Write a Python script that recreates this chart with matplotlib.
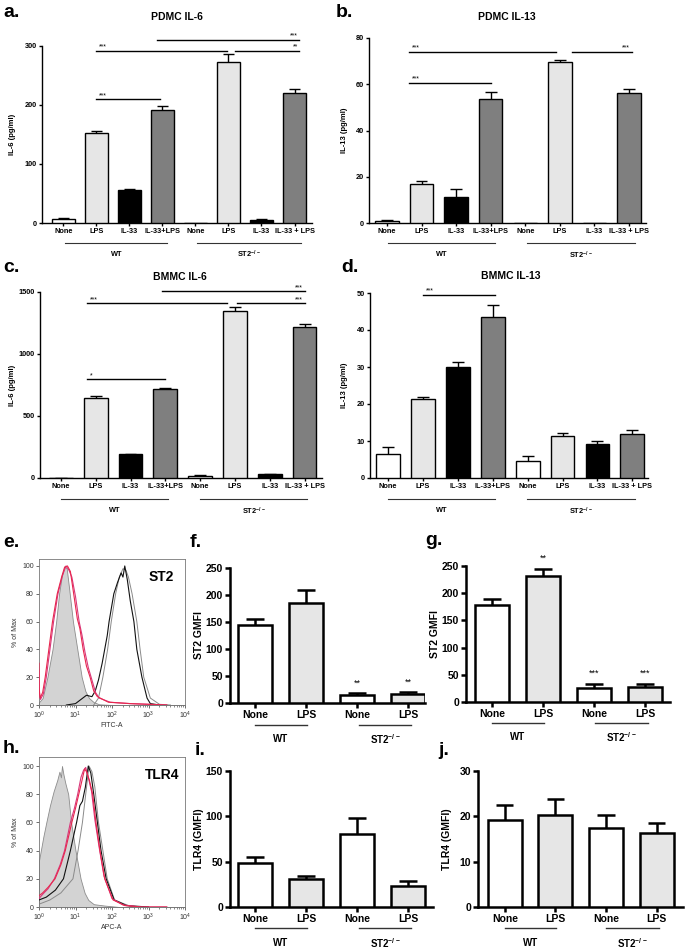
import numpy as np
import matplotlib
matplotlib.use("Agg")
import matplotlib.pyplot as plt
import matplotlib.transforms as mtransforms
from matplotlib.ticker import LogLocator, NullFormatter, FixedLocator

plt.rcParams['font.family'] = ['Liberation Sans', 'DejaVu Sans']
plt.rcParams['mathtext.fontset'] = 'custom'
plt.rcParams['mathtext.rm'] = 'Liberation Sans'
plt.rcParams['mathtext.bf'] = 'Liberation Sans:bold'
plt.rcParams['mathtext.default'] = 'regular'

# ------------------------------------------------------------------ data
conditions8 = ["None", "LPS", "IL-33", "IL-33+LPS", "None", "LPS", "IL-33", "IL-33 + LPS"]
treatment8 = ["None", "LPS", "IL-33", "IL-33+LPS"] * 2
conditions4 = ["None", "LPS", "None", "LPS"]
treatment4 = ["None", "LPS", "None", "LPS"]
genotypes = ["WT", r"ST2$^{\mathbf{-/-}}$"]

pdmc_il6 = [6.2, 153, 56, 191.5, 0.5, 273, 5, 221]
pdmc_il6_err = [1.7, 3, 1, 6.5, 0, 13, 1, 5.6]
pdmc_il13 = [0.9, 16.7, 11.4, 53.8, 0, 69.5, 0, 56.3]
pdmc_il13_err = [0.5, 1.6, 3.2, 2.8, 0, 1.1, 0, 1.5]
bmmc_il6 = [3, 642, 193, 715, 19, 1345, 30, 1214]
bmmc_il6_err = [1, 19, 4, 13, 3, 35, 3, 25]
bmmc_il13 = [6.5, 21.4, 30.1, 43.6, 4.6, 11.4, 9.2, 11.9]
bmmc_il13_err = [2.0, 0.6, 1.3, 3.2, 1.3, 0.7, 0.7, 1.0]

st2_gmfi_f = [144, 186, 15, 17]
st2_gmfi_f_err = [12, 24, 3.5, 3.5]
st2_gmfi_g = [178, 231, 26, 27]
st2_gmfi_g_err = [11, 14, 8, 7]
tlr4_gmfi_i = [49, 30.5, 80, 23]
tlr4_gmfi_i_err = [6.2, 4, 18, 5.8]
tlr4_gmfi_j = [19.1, 20.2, 17.5, 16.3]
tlr4_gmfi_j_err = [3.3, 3.7, 2.9, 2.3]

# significance brackets: (from, to, height, stars, star side)
pdmc_il6_sig = [(1.0, 4.95, 292, "***", "left"), (5.2, 7.15, 292, "**", "right"),
                (2.83, 7.15, 311, "***", "right"), (1.0, 2.92, 210, "***", "left")]
pdmc_il13_sig = [(0.64, 4.9, 74, "***", "left"), (5.35, 7.08, 74, "***", "right"),
                 (0.64, 3.0, 60.6, "***", "left")]
bmmc_il6_sig = [(0.75, 4.77, 1411, "***", "left"), (5.06, 7.0, 1411, "***", "right"),
                (2.9, 7.0, 1508, "***", "right"), (0.75, 3.0, 798, "*", "left")]
bmmc_il13_sig = [(1.0, 3.07, 49.5, "***", "left")]
st2_f_stars = ["", "", "**", "**"]
st2_g_stars = ["", "**", "***", "***"]

# flow histograms: log10(fluorescence) and % of max
e_iso_lx = [0, 0.1, 0.23, 0.37, 0.47, 0.55, 0.62, 0.7, 0.76, 0.82, 0.93, 1.05, 1.17, 1.27, 1.37, 1.5, 1.65, 2.0, 4.0]
e_iso_y = [2, 5, 20, 40, 60, 80, 92, 100, 98, 85, 60, 40, 20, 10, 5, 2, 0.5, 0, 0]
e_ko1_lx = [0, 0.005, 0.03, 0.1, 0.17, 0.27, 0.37, 0.5, 0.62, 0.7, 0.78, 0.86, 0.95, 1.05, 1.12, 1.21, 1.3, 1.4, 1.5, 1.6, 1.9, 2.5, 3.0, 3.5]
e_ko1_y = [30, 12, 5, 9, 20, 40, 60, 80, 92, 99, 100, 96, 80, 62, 55, 40, 28, 20, 10, 6, 2, 1, 0.5, 0]
e_ko2_lx = [0, 0.005, 0.04, 0.12, 0.2, 0.3, 0.4, 0.52, 0.64, 0.74, 0.82, 0.9, 1.0, 1.1, 1.18, 1.26, 1.35, 1.45, 1.55, 1.65, 1.95, 2.5, 3.0, 3.5]
e_ko2_y = [25, 10, 4, 8, 20, 40, 60, 80, 93, 100, 97, 92, 78, 60, 50, 38, 27, 18, 9, 5, 2, 1, 0.5, 0]
e_wt1_lx = [0.75, 1.0, 1.15, 1.3, 1.45, 1.54, 1.63, 1.73, 1.87, 1.92, 2.05, 2.15, 2.25, 2.3, 2.35, 2.42, 2.5, 2.6, 2.68, 2.82, 2.96, 3.05, 3.3]
e_wt1_y = [0, 1, 4, 7, 6, 10, 18, 30, 50, 60, 80, 88, 95, 92, 100, 90, 75, 60, 40, 20, 5, 1, 0]
e_wt2_lx = [1.5, 1.63, 1.75, 1.88, 1.98, 2.1, 2.2, 2.3, 2.38, 2.45, 2.55, 2.68, 2.77, 2.87, 3.05, 3.3, 3.6]
e_wt2_y = [0, 5, 20, 40, 60, 80, 92, 98, 97, 92, 80, 60, 40, 20, 5, 0.5, 0]

h_iso_lx = [0, 0.05, 0.12, 0.2, 0.3, 0.4, 0.5, 0.56, 0.6, 0.63, 0.67, 0.72, 0.8, 0.88, 1.0, 1.07, 1.14, 1.25, 1.35, 1.5, 1.8, 2.2, 4.0]
h_iso_y = [33, 40, 50, 60, 72, 82, 90, 96, 92, 100, 94, 88, 80, 60, 40, 30, 20, 10, 5, 2, 1, 0, 0]
h_ko1_lx = [0, 0.1, 0.25, 0.44, 0.6, 0.72, 0.9, 1.0, 1.09, 1.18, 1.25, 1.3, 1.38, 1.47, 1.56, 1.67, 1.8, 2.03, 2.35, 2.8, 3.5]
h_ko1_y = [8, 10, 14, 20, 30, 40, 60, 70, 80, 90, 98, 96, 90, 80, 60, 40, 20, 5, 1, 0, 0]
h_ko2_lx = [0, 0.1, 0.25, 0.42, 0.58, 0.7, 0.86, 0.97, 1.06, 1.15, 1.22, 1.28, 1.35, 1.44, 1.53, 1.65, 1.78, 2.0, 2.3, 2.8, 3.5]
h_ko2_y = [6, 9, 13, 20, 30, 40, 60, 70, 80, 92, 97, 99, 92, 82, 62, 42, 22, 6, 1.5, 0, 0]
h_wt1_lx = [0, 0.2, 0.45, 0.67, 0.86, 1.03, 1.12, 1.19, 1.27, 1.35, 1.42, 1.5, 1.6, 1.7, 1.84, 2.06, 2.4, 3.0]
h_wt1_y = [5, 7, 12, 20, 40, 60, 72, 75, 85, 100, 95, 80, 60, 40, 20, 5, 1, 0]
h_wt2_lx = [0, 0.3, 0.6, 0.93, 1.07, 1.19, 1.28, 1.37, 1.45, 1.53, 1.63, 1.75, 1.87, 2.07, 2.5, 3.0]
h_wt2_y = [2, 5, 10, 20, 40, 60, 80, 100, 96, 85, 60, 40, 20, 5, 0.5, 0]

# ------------------------------------------------------------------ style
W, H = 685, 951
fig = plt.figure(figsize=(W / 100, H / 100), dpi=100)

fill_colors = {"None": "white", "LPS": "#e6e6e6", "IL-33": "black", "IL-33+LPS": "#7f7f7f"}


def add_ax(l, r, t, b):
    return fig.add_axes([l / W, 1 - b / H, (r - l) / W, (b - t) / H])


def ftext(x, y, s, **kw):
    fig.text(x / W, 1 - y / H, s, **kw)


def bar_panel(box, vals, errs, labels, treat, ymax, yticks, xlim, width, lw,
              tick_fs, cap_hw, tick_len):
    l, r, t, b = box
    ax = add_ax(l, r, t, b)
    x = np.arange(len(vals))
    v = np.array(vals, float)
    e = np.array(errs, float)
    ax.bar(x, v, width=width, color=[fill_colors[c] for c in treat],
           edgecolor="black", linewidth=lw, zorder=3)
    m = e > 0
    ax.vlines(x[m], v[m], v[m] + e[m], color="black", lw=lw, zorder=2)
    ax.hlines(v[m] + e[m], x[m] - cap_hw, x[m] + cap_hw, color="black", lw=lw, zorder=2)
    ax.set_xlim(*xlim)
    ax.set_ylim(0, ymax)
    ax.spines[["top", "right"]].set_visible(False)
    for s in ("left", "bottom"):
        ax.spines[s].set_linewidth(lw)
    ax.set_yticks(yticks)
    ax.set_xticks(x)
    ax.set_xticklabels(labels)
    ax.tick_params(axis="both", length=tick_len, width=lw, labelsize=tick_fs, pad=1.5)
    for lab in ax.get_xticklabels() + ax.get_yticklabels():
        lab.set_fontweight("bold")
    ax.patch.set_alpha(0)
    return ax


def group_lines(ax, box, spans, line_y, text_y, fs, lw):
    l, r, t, b = box
    hpx = b - t
    trans = mtransforms.blended_transform_factory(ax.transData, ax.transAxes)
    for (x0, x1), g in zip(spans, genotypes):
        yl = (b - line_y) / hpx
        ax.plot([x0, x1], [yl, yl], transform=trans, clip_on=False, color="#333333", lw=lw)
        ax.text((x0 + x1) / 2, (b - text_y) / hpx, g, transform=trans, ha="center",
                va="center", fontsize=fs, fontweight="bold")


def sig_lines(ax, sigs, lw, fs):
    for x0, x1, y, txt, side in sigs:
        ax.plot([x0, x1], [y, y], color="black", lw=lw, clip_on=False)
        if side == "left":
            ax.text(x0 + 0.08, y, txt, ha="left", va="bottom", fontsize=fs, clip_on=False)
        else:
            ax.text(x1 - 0.05, y, txt, ha="right", va="bottom", fontsize=fs, clip_on=False)


# ---------------------------------------------------------------- a-d
small = dict(width=0.68, lw=1.0, tick_fs=5.3, cap_hw=0.17, tick_len=2.2)

box_a = (42, 312, 46, 223)
ax_a = bar_panel(box_a, pdmc_il6, pdmc_il6_err, conditions8, treatment8, 300,
                 [0, 100, 200, 300], (-0.65, 7.53), **small)
sig_lines(ax_a, pdmc_il6_sig, 1.0, 5)
group_lines(ax_a, box_a, [(0.05, 3.15), (4.05, 7.2)], 243, 254, 5.3, 0.8)

box_b = (369, 646, 38, 223)
ax_b = bar_panel(box_b, pdmc_il13, pdmc_il13_err, conditions8, treatment8, 80,
                 [0, 20, 40, 60, 80], (-0.52, 7.49), **small)
sig_lines(ax_b, pdmc_il13_sig, 1.0, 5)
group_lines(ax_b, box_b, [(0.03, 3.12), (4.05, 7.17)], 243, 255, 5.3, 0.8)

box_c = (40, 322, 292, 478)
ax_c = bar_panel(box_c, bmmc_il6, bmmc_il6_err, conditions8, treatment8, 1500,
                 [0, 500, 1000, 1500], (-0.6, 7.5), **small)
sig_lines(ax_c, bmmc_il6_sig, 1.0, 5)
group_lines(ax_c, box_c, [(0.0, 3.07), (4.0, 7.07)], 499, 511, 5.3, 0.8)

box_d = (370, 648, 293, 478)
ax_d = bar_panel(box_d, bmmc_il13, bmmc_il13_err, conditions8, treatment8, 50,
                 [0, 10, 20, 30, 40, 50], (-0.52, 7.45), **small)
sig_lines(ax_d, bmmc_il13_sig, 1.0, 5)
group_lines(ax_d, box_d, [(0.0, 3.07), (3.98, 7.07)], 499, 511, 5.3, 0.8)

for box, lab in [(box_a, "IL-6 (pg/ml)"), (box_b, "IL-13 (pg/ml)"),
                 (box_c, "IL-6 (pg/ml)"), (box_d, "IL-13 (pg/ml)")]:
    xlab = 12 if box[0] < 100 else 344
    ftext(xlab, (box[2] + box[3]) / 2, lab, rotation=90, ha="center", va="center",
          fontsize=5.5, fontweight="bold")

ftext(177, 20, "PDMC IL-6", ha="center", va="baseline", fontsize=7.5, fontweight="bold")
ftext(507, 20, "PDMC IL-13", ha="center", va="baseline", fontsize=7.5, fontweight="bold")
ftext(180, 280, "BMMC IL-6", ha="center", va="baseline", fontsize=7.5, fontweight="bold")
ftext(511, 279, "BMMC IL-13", ha="center", va="baseline", fontsize=7.5, fontweight="bold")

# ---------------------------------------------------------------- f, g, i, j
big = dict(width=0.67, lw=1.8, tick_fs=7.5, cap_hw=0.17, tick_len=3.5)

box_f = (230, 425, 568, 703)
ax_f = bar_panel(box_f, st2_gmfi_f, st2_gmfi_f_err, conditions4, treatment4, 250,
                 [0, 50, 100, 150, 200, 250], (-0.49, 3.33), **big)
group_lines(ax_f, box_f, [(0, 1.02), (2.04, 3.06)], 725, 739, 7, 1.0)

box_g = (466, 670, 566, 702)
ax_g = bar_panel(box_g, st2_gmfi_g, st2_gmfi_g_err, conditions4, treatment4, 250,
                 [0, 50, 100, 150, 200, 250], (-0.51, 3.49), **big)
group_lines(ax_g, box_g, [(0, 1.02), (2.02, 3.05)], 723, 737, 7, 1.0)

box_i = (230, 433, 771, 907)
ax_i = bar_panel(box_i, tlr4_gmfi_i, tlr4_gmfi_i_err, conditions4, treatment4, 150,
                 [0, 50, 100, 150], (-0.49, 3.49), **big)
group_lines(ax_i, box_i, [(0, 1.02), (2.04, 3.06)], 928, 943, 7, 1.0)

box_j = (478, 683, 771, 907)
ax_j = bar_panel(box_j, tlr4_gmfi_j, tlr4_gmfi_j_err, conditions4, treatment4, 30,
                 [0, 10, 20, 30], (-0.53, 3.52), **big)
group_lines(ax_j, box_j, [(0, 1.02), (2.0, 3.04)], 928, 943, 7, 1.0)

for ax, vals, errs, stars in [(ax_f, st2_gmfi_f, st2_gmfi_f_err, st2_f_stars),
                              (ax_g, st2_gmfi_g, st2_gmfi_g_err, st2_g_stars)]:
    for k, s in enumerate(stars):
        if s:
            ax.annotate(s, (k, vals[k] + errs[k]), xytext=(0, 4), textcoords="offset points",
                        ha="center", va="bottom", fontsize=6.5, annotation_clip=False)

for box, lab in [(box_f, "ST2 GMFI"), (box_g, "ST2 GMFI"),
                 (box_i, "TLR4 (GMFI)"), (box_j, "TLR4 (GMFI)")]:
    ftext(box[0] - 31, (box[2] + box[3]) / 2, lab, rotation=90, ha="center", va="center",
          fontsize=7.5, fontweight="bold")

# ---------------------------------------------------------------- e, h histograms
def hist_panel(box, iso, ko1, ko2, wt1, wt2, ytop, xlabel, marker):
    ax = add_ax(*box)
    lx, y = np.array(iso[0]), np.array(iso[1])
    ax.fill_between(10 ** lx, y, 0, facecolor="#d3d3d3", edgecolor="#8c8c8c", lw=0.6, zorder=1)
    ax.plot(10 ** np.array(wt2[0]), wt2[1], color="#8a8a8a", lw=0.7, zorder=2)
    ax.plot(10 ** np.array(wt1[0]), wt1[1], color="#111111", lw=0.8, zorder=3)
    ax.plot(10 ** np.array(ko2[0]), ko2[1], color="#d8387c", lw=0.8, zorder=4)
    ax.plot(10 ** np.array(ko1[0]), ko1[1], color="#e8264e", lw=0.8, zorder=5)
    ax.set_xscale("log")
    ax.set_xlim(1, 1e4)
    ax.set_ylim(0, ytop)
    for s in ax.spines.values():
        s.set_color("#777777")
        s.set_linewidth(0.6)
    ax.set_yticks([0, 20, 40, 60, 80, 100])
    ax.xaxis.set_major_locator(FixedLocator([1, 10, 100, 1000, 10000]))
    ax.set_xticklabels([r"$10^0$", r"$10^1$", r"$10^2$", r"$10^3$", r"$10^4$"])
    ax.xaxis.set_minor_locator(LogLocator(base=10, subs=np.arange(2, 10)))
    ax.xaxis.set_minor_formatter(NullFormatter())
    ax.tick_params(axis="both", which="major", length=2.2, width=0.5, labelsize=5,
                   colors="#333333", pad=1.5)
    ax.tick_params(axis="x", which="minor", length=1.2, width=0.4, colors="#333333")
    ax.set_xlabel(xlabel, fontsize=5, labelpad=0.5, color="#333333")
    ax.set_ylabel("% of Max", fontsize=5, labelpad=2, color="#333333")
    ax.text(0.84, 0.88, marker, transform=ax.transAxes, ha="center", va="center",
            fontsize=10, fontweight="bold")
    return ax


hist_panel((39, 185, 559, 705), (e_iso_lx, e_iso_y), (e_ko1_lx, e_ko1_y), (e_ko2_lx, e_ko2_y),
           (e_wt1_lx, e_wt1_y), (e_wt2_lx, e_wt2_y), 105, "FITC-A", "ST2")
hist_panel((39, 185, 757, 907), (h_iso_lx, h_iso_y), (h_ko1_lx, h_ko1_y), (h_ko2_lx, h_ko2_y),
           (h_wt1_lx, h_wt1_y), (h_wt2_lx, h_wt2_y), 106.4, "APC-A", "TLR4")

# ---------------------------------------------------------------- panel letters
for x, y, s in [(3, 17, "a."), (336, 17, "b."), (3, 272, "c."), (341, 272, "d."),
                (3, 547, "e."), (190, 547, "f."), (425, 545, "g."),
                (3, 753, "h."), (195, 755, "i."), (438, 755, "j.")]:
    ftext(x, y, s, ha="left", va="baseline", fontsize=14, fontweight="bold")

fig.savefig("out.png", dpi=100)
